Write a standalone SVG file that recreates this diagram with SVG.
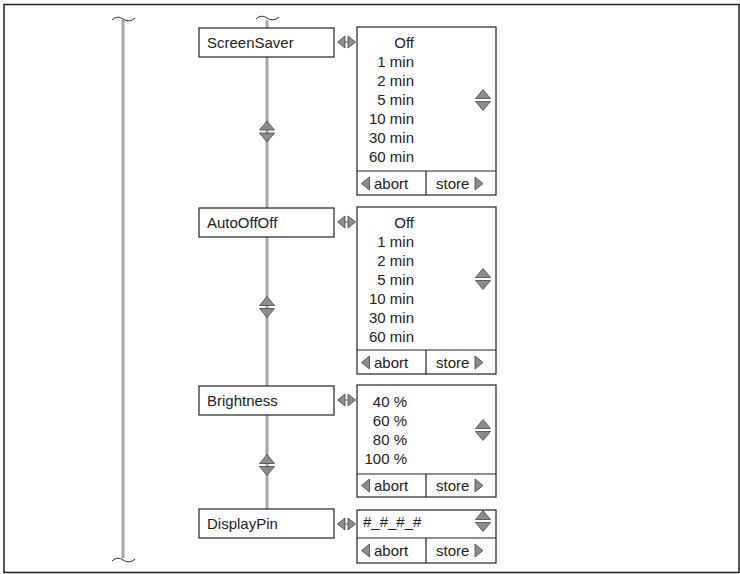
<svg xmlns="http://www.w3.org/2000/svg" width="740" height="574" viewBox="0 0 740 574">
<defs>
<style>
text{font-family:"Liberation Sans","DejaVu Sans",sans-serif;font-size:15px;fill:#222}
.box{fill:#fff;stroke:#222;stroke-width:1.2}
.rail{stroke:#a6a6a6;stroke-width:3;fill:none}
.tilde{stroke:#222;stroke-width:1;fill:none}
.tri{fill:#8c8c8c;stroke:#444;stroke-width:0.8}
.ln{stroke:#222;stroke-width:1.2}
.r{text-anchor:end}
</style>
<g id="udarrow">
<path class="tri" d="M-7.5,-1.5 L0,-10.5 L7.5,-1.5 Z"/>
<path class="tri" d="M-7.5,1.5 L0,10.5 L7.5,1.5 Z"/>
</g>
<g id="lrarrow">
<path class="tri" d="M-1.5,-6 L-9,0 L-1.5,6 Z"/>
<path class="tri" d="M1.5,-6 L9,0 L1.5,6 Z"/>
<line x1="-1.5" y1="0" x2="1.5" y2="0" stroke="#555" stroke-width="1"/>
</g>
<path id="lt" class="tri" d="M4,-6.5 L-4,0 L4,6.5 Z"/>
<path id="rt" class="tri" d="M-4,-6.5 L4,0 L-4,6.5 Z"/>
</defs>
<rect width="740" height="574" fill="#fff"/>
<path d="M4,572.5 L4,4.5 L739,4.5 L739,572.5 Z" fill="none" stroke="#222" stroke-width="1.5"/>

<g id="connectors">
<line class="rail" x1="123" y1="20" x2="123" y2="558"/>
<path class="tilde" d="M112,20 C116,16 120,17 123,19 C126,21 131,22 135,18"/>
<path class="tilde" d="M112,561 C116,557 120,558 123,560 C126,562 131,563 135,559"/>
<line class="rail" x1="267" y1="20" x2="267" y2="509"/>
<path class="tilde" d="M256,19 C260,15 264,16 267,18 C270,20 275,21 279,17"/>
<use href="#udarrow" x="267" y="131.5"/>
<use href="#udarrow" x="267" y="307"/>
<use href="#udarrow" x="267" y="465"/>
<use href="#lrarrow" x="346.5" y="42"/>
<use href="#lrarrow" x="346.5" y="222"/>
<use href="#lrarrow" x="346.5" y="400"/>
<use href="#lrarrow" x="346.5" y="524"/>
</g>

<g id="screensaver">
<rect class="box" x="199" y="28" width="135" height="29"/>
<text x="207" y="48">ScreenSaver</text>
</g>
<g id="screensaver-options">
<rect class="box" x="357" y="27" width="139" height="168"/>
<line class="ln" x1="357" y1="171" x2="496" y2="171"/>
<line class="ln" x1="426" y1="171" x2="426" y2="195"/>
<text class="r" x="414" y="48">Off</text>
<text class="r" x="414" y="67">1 min</text>
<text class="r" x="414" y="86">2 min</text>
<text class="r" x="414" y="105">5 min</text>
<text class="r" x="414" y="124">10 min</text>
<text class="r" x="414" y="143">30 min</text>
<text class="r" x="414" y="162">60 min</text>
<use href="#udarrow" x="483" y="100"/>
<use href="#lt" x="365.5" y="183.5"/>
<text x="374" y="189">abort</text>
<text x="436" y="189">store</text>
<use href="#rt" x="479" y="183.5"/>
</g>

<g id="autooffoff">
<rect class="box" x="199" y="208" width="135" height="29"/>
<text x="207" y="228">AutoOffOff</text>
</g>
<g id="autooffoff-options">
<rect class="box" x="357" y="207" width="139" height="167"/>
<line class="ln" x1="357" y1="350" x2="496" y2="350"/>
<line class="ln" x1="426" y1="350" x2="426" y2="374"/>
<text class="r" x="414" y="228">Off</text>
<text class="r" x="414" y="247">1 min</text>
<text class="r" x="414" y="266">2 min</text>
<text class="r" x="414" y="285">5 min</text>
<text class="r" x="414" y="304">10 min</text>
<text class="r" x="414" y="323">30 min</text>
<text class="r" x="414" y="342">60 min</text>
<use href="#udarrow" x="483" y="279"/>
<use href="#lt" x="365.5" y="362.5"/>
<text x="374" y="368">abort</text>
<text x="436" y="368">store</text>
<use href="#rt" x="479" y="362.5"/>
</g>

<g id="brightness">
<rect class="box" x="199" y="386" width="135" height="29"/>
<text x="207" y="406">Brightness</text>
</g>
<g id="brightness-options">
<rect class="box" x="357" y="385" width="139" height="112"/>
<line class="ln" x1="357" y1="474" x2="496" y2="474"/>
<line class="ln" x1="426" y1="474" x2="426" y2="497"/>
<text class="r" x="407" y="407">40 %</text>
<text class="r" x="407" y="426">60 %</text>
<text class="r" x="407" y="445">80 %</text>
<text class="r" x="407" y="464">100 %</text>
<use href="#udarrow" x="483" y="430"/>
<use href="#lt" x="365.5" y="485.5"/>
<text x="374" y="491">abort</text>
<text x="436" y="491">store</text>
<use href="#rt" x="479" y="485.5"/>
</g>

<g id="displaypin">
<rect class="box" x="199" y="509" width="135" height="29"/>
<text x="207" y="529">DisplayPin</text>
</g>
<g id="displaypin-options">
<rect class="box" x="357" y="510" width="139" height="53"/>
<line class="ln" x1="357" y1="538" x2="496" y2="538"/>
<line class="ln" x1="426" y1="538" x2="426" y2="563"/>
<text x="363" y="527">#_#_#_#</text>
<use href="#udarrow" x="483" y="521"/>
<use href="#lt" x="365.5" y="550.5"/>
<text x="374" y="556">abort</text>
<text x="436" y="556">store</text>
<use href="#rt" x="479" y="550.5"/>
</g>
</svg>
